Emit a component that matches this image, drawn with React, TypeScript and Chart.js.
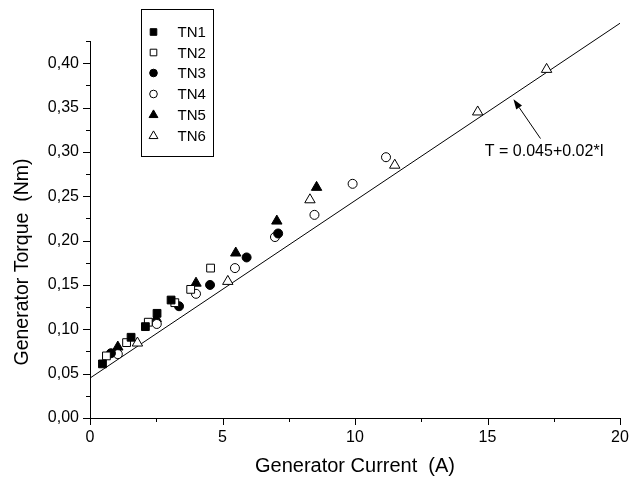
import React, { useEffect, useRef } from 'react';
import { Chart, registerables } from 'chart.js';

Chart.register(...registerables);

// ---- data ----
const SERIES_NAMES = ['TN1', 'TN2', 'TN3', 'TN4', 'TN5', 'TN6'];
const SERIES_STYLES = ['rect', 'rect', 'circle', 'circle', 'triangle', 'triangle'];
const SERIES_FILLED = [true, false, true, false, true, false];

const TN1_I = [0.47, 1.55, 2.09, 2.53, 3.06];
const TN1_T = [0.061, 0.091, 0.103, 0.118, 0.133];
const TN2_I = [0.62, 1.38, 2.2, 3.2, 3.8, 4.55];
const TN2_T = [0.07, 0.085, 0.108, 0.13, 0.145, 0.169];
const TN3_I = [0.79, 3.36, 4.53, 5.91, 7.1];
const TN3_T = [0.073, 0.126, 0.15, 0.181, 0.208];
const TN4_I = [1.05, 2.52, 4.0, 5.47, 6.98, 8.47, 9.91, 11.17];
const TN4_T = [0.072, 0.106, 0.14, 0.169, 0.204, 0.229, 0.264, 0.294];
const TN5_I = [1.05, 2.5, 4.0, 5.5, 7.05, 8.55];
const TN5_T = [0.08, 0.112, 0.152, 0.186, 0.222, 0.26];
const TN6_I = [1.79, 5.2, 8.3, 11.5, 14.63, 17.23];
const TN6_T = [0.0845, 0.154, 0.246, 0.285, 0.345, 0.393];

const SERIES_I = [TN1_I, TN2_I, TN3_I, TN4_I, TN5_I, TN6_I];
const SERIES_T = [TN1_T, TN2_T, TN3_T, TN4_T, TN5_T, TN6_T];

// fit line T = 0.045 + 0.02*I
const FIT_INTERCEPT = 0.045;
const FIT_SLOPE = 0.02;
const FIT_RANGE = [0, 20];
const FIT_LABEL = 'T = 0.045+0.02*I';

// axes
const X_MIN = 0;
const X_MAX = 20;
const X_MAJOR = 5;
const X_MINOR = 2.5;
const Y_MIN = 0;
const Y_MAX = 0.425;
const Y_MAJOR = 0.05;
const Y_MINOR = 0.025;
const X_TITLE = 'Generator Current  (A)';
const Y_TITLE = 'Generator Torque  (Nm)';

// annotation (data coordinates)
const ARROW_TIP = { x: 15.98, y: 0.3594 };
const ARROW_TAIL = { x: 17.0, y: 0.315 };
const LABEL_POS = { x: 14.9, y: 0.3 };

const FONT = '"Liberation Sans", Arial, Helvetica, sans-serif';

function drawMarker(ctx: CanvasRenderingContext2D, style: string, x: number, y: number, r: number, filled: boolean) {
  ctx.beginPath();
  if (style === 'rect') {
    const s = Math.SQRT1_2 * r;
    ctx.rect(x - s, y - s, 2 * s, 2 * s);
  } else if (style === 'circle') {
    ctx.arc(x, y, r, 0, Math.PI * 2);
  } else {
    for (let k = 0; k < 3; k++) {
      const a = -Math.PI / 2 + (k * 2 * Math.PI) / 3;
      const px = x + Math.cos(a) * r;
      const py = y + Math.sin(a) * r;
      if (k === 0) ctx.moveTo(px, py);
      else ctx.lineTo(px, py);
    }
    ctx.closePath();
  }
  ctx.fillStyle = filled ? '#000' : '#fff';
  ctx.fill();
  ctx.lineWidth = 1;
  ctx.strokeStyle = '#000';
  ctx.stroke();
}

const POINT_RADIUS: Record<string, number> = { rect: 5.5, circle: 4.5, triangle: 6 };

const decorPlugin = {
  id: 'decor',
  afterDraw(chart: any) {
    const ctx: CanvasRenderingContext2D = chart.ctx;
    const xs = chart.scales.x;
    const ys = chart.scales.y;
    const area = chart.chartArea;
    ctx.save();
    ctx.strokeStyle = '#000';
    ctx.fillStyle = '#000';
    ctx.lineWidth = 1;

    // x ticks (outward, below)
    const nx = Math.round((X_MAX - X_MIN) / X_MINOR);
    for (let k = 0; k <= nx; k++) {
      const v = X_MIN + k * X_MINOR;
      const major = Math.abs(v / X_MAJOR - Math.round(v / X_MAJOR)) < 1e-6;
      const px = Math.round(xs.getPixelForValue(v)) + 0.5;
      ctx.beginPath();
      ctx.moveTo(px, area.bottom);
      ctx.lineTo(px, area.bottom + (major ? 7 : 4));
      ctx.stroke();
    }
    // y ticks (outward, left)
    const ny = Math.round((Y_MAX - Y_MIN) / Y_MINOR);
    for (let k = 0; k <= ny; k++) {
      const v = Y_MIN + k * Y_MINOR;
      const major = Math.abs(v / Y_MAJOR - Math.round(v / Y_MAJOR)) < 1e-6;
      const py = Math.round(ys.getPixelForValue(v)) + 0.5;
      ctx.beginPath();
      ctx.moveTo(area.left, py);
      ctx.lineTo(area.left - (major ? 7 : 4), py);
      ctx.stroke();
    }

    // axis titles
    ctx.textAlign = 'center';
    ctx.textBaseline = 'middle';
    ctx.font = `20px ${FONT}`;
    ctx.fillText(X_TITLE, 355, 466);
    ctx.save();
    ctx.translate(23, 262);
    ctx.rotate(-Math.PI / 2);
    ctx.font = `19.5px ${FONT}`;
    ctx.fillText(Y_TITLE, 0, 0);
    ctx.restore();

    // annotation arrow
    const tx = xs.getPixelForValue(ARROW_TIP.x);
    const ty = ys.getPixelForValue(ARROW_TIP.y);
    const sx = xs.getPixelForValue(ARROW_TAIL.x);
    const sy = ys.getPixelForValue(ARROW_TAIL.y);
    const ang = Math.atan2(ty - sy, tx - sx);
    const headLen = 10;
    const headW = 3.5;
    const bx = tx - Math.cos(ang) * headLen;
    const by = ty - Math.sin(ang) * headLen;
    ctx.beginPath();
    ctx.moveTo(sx, sy);
    ctx.lineTo(bx, by);
    ctx.stroke();
    ctx.beginPath();
    ctx.moveTo(tx, ty);
    ctx.lineTo(bx + Math.sin(ang) * headW, by - Math.cos(ang) * headW);
    ctx.lineTo(bx - Math.sin(ang) * headW, by + Math.cos(ang) * headW);
    ctx.closePath();
    ctx.fill();

    ctx.font = `16px ${FONT}`;
    ctx.textAlign = 'left';
    ctx.textBaseline = 'middle';
    ctx.fillText(FIT_LABEL, xs.getPixelForValue(LABEL_POS.x), ys.getPixelForValue(LABEL_POS.y));

    // legend box
    const bxL = 141.5, bxT = 9.5, bxW = 72, bxH = 147;
    ctx.strokeRect(bxL, bxT, bxW, bxH);
    const rowY = [32, 52.5, 73, 94, 115, 136];
    ctx.font = `15px ${FONT}`;
    for (let k = 0; k < SERIES_NAMES.length; k++) {
      const st = SERIES_STYLES[k];
      drawMarker(ctx, st, 153.5, rowY[k], POINT_RADIUS[st] * 0.85, SERIES_FILLED[k]);
      ctx.fillStyle = '#000';
      ctx.fillText(SERIES_NAMES[k], 177.5, rowY[k] + 1);
    }
    ctx.restore();
  },
};

export default function App() {
  const ref = useRef<HTMLCanvasElement | null>(null);

  useEffect(() => {
    document.body.style.margin = '0';
    const canvas = ref.current;
    if (!canvas) return;

    const datasets: any[] = SERIES_NAMES.map((name, k) => ({
      type: 'scatter',
      label: name,
      data: SERIES_I[k].map((xv, j) => ({ x: xv, y: SERIES_T[k][j] })),
      pointStyle: SERIES_STYLES[k],
      pointRadius: POINT_RADIUS[SERIES_STYLES[k]],
      pointBackgroundColor: SERIES_FILLED[k] ? '#000' : '#fff',
      pointBorderColor: '#000',
      pointBorderWidth: 1,
      showLine: false,
    }));
    datasets.push({
      type: 'line',
      label: 'fit',
      data: FIT_RANGE.map((xv) => ({ x: xv, y: FIT_INTERCEPT + FIT_SLOPE * xv })),
      borderColor: '#000',
      borderWidth: 1,
      pointRadius: 0,
      fill: false,
      clip: false,
      order: 10,
    });

    const chart = new Chart(canvas, {
      type: 'scatter',
      data: { datasets },
      options: {
        animation: false,
        responsive: false,
        maintainAspectRatio: false,
        layout: { padding: { top: 41, right: 12, left: 0, bottom: 0 } },
        plugins: {
          legend: { display: false },
          tooltip: { enabled: false },
        },
        scales: {
          x: {
            type: 'linear',
            min: X_MIN,
            max: X_MAX,
            grid: { display: false, drawTicks: false },
            border: { display: true, color: '#000', width: 1 },
            ticks: {
              stepSize: X_MAJOR,
              includeBounds: false,
              color: '#000',
              font: { family: FONT, size: 16 },
              padding: 10,
              maxRotation: 0,
              callback: (v: any) => String(v),
            },
            afterFit: (s: any) => {
              s.height = 61;
              s.paddingLeft = 0;
              s.paddingRight = 0;
            },
          },
          y: {
            type: 'linear',
            min: Y_MIN,
            max: Y_MAX,
            grid: { display: false, drawTicks: false },
            border: { display: true, color: '#000', width: 1 },
            ticks: {
              stepSize: Y_MAJOR,
              includeBounds: false,
              color: '#000',
              font: { family: FONT, size: 16 },
              padding: 11,
              callback: (v: any) => Number(v).toFixed(2).replace('.', ','),
            },
            afterFit: (s: any) => {
              s.width = 90;
              s.paddingTop = 0;
              s.paddingBottom = 0;
            },
          },
        },
      },
      plugins: [decorPlugin],
    });
    return () => chart.destroy();
  }, []);

  return <canvas ref={ref} width={632} height={479} style={{ display: 'block' }} />;
}
